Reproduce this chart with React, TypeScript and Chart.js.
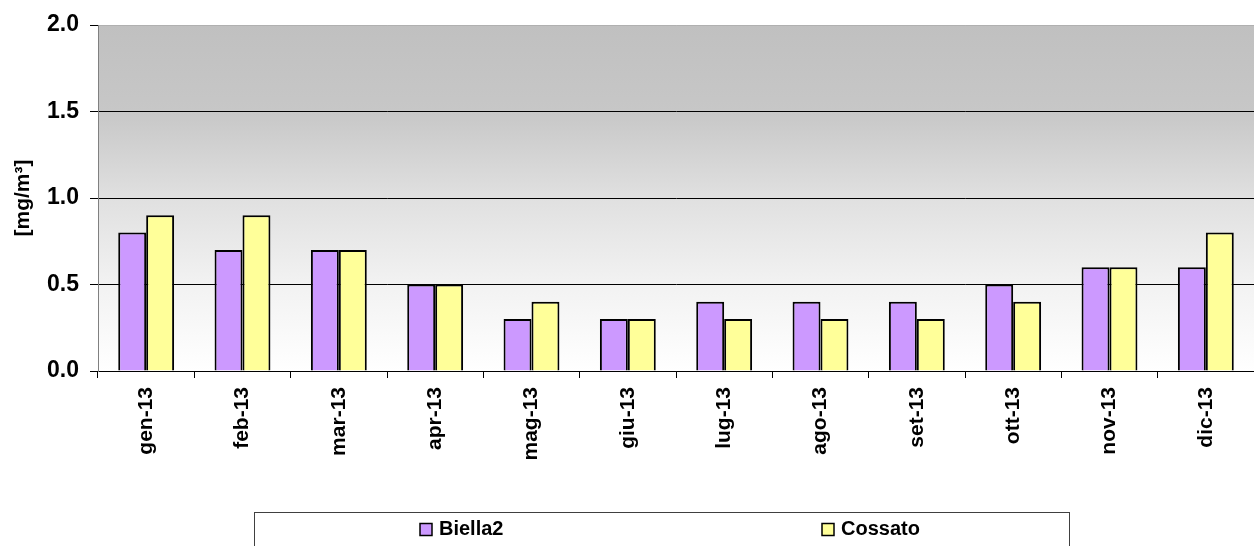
import React, { useEffect, useRef } from "react";
import { Chart, registerables } from "chart.js";

Chart.register(...registerables);

const categories = ["gen-13", "feb-13", "mar-13", "apr-13", "mag-13", "giu-13", "lug-13", "ago-13", "set-13", "ott-13", "nov-13", "dic-13"];
const biella2 = [0.8, 0.7, 0.7, 0.5, 0.3, 0.3, 0.4, 0.4, 0.4, 0.5, 0.6, 0.6];
const cossato = [0.9, 0.9, 0.7, 0.5, 0.4, 0.3, 0.3, 0.3, 0.3, 0.4, 0.6, 0.8];
const seriesNames = ["Biella2", "Cossato"];
const yTitle = "[mg/m³]";

const FONT = "Arial, 'Liberation Sans', sans-serif";

const bgPlugin = {
  id: "bgGradient",
  beforeDraw(chart: any) {
    const { ctx, chartArea } = chart;
    if (!chartArea) return;
    const g = ctx.createLinearGradient(0, chartArea.top, 0, chartArea.bottom);
    g.addColorStop(0, "#c0c0c0");
    g.addColorStop(0.25, "#c7c7c7");
    g.addColorStop(0.5, "#e0e0e0");
    g.addColorStop(0.75, "#f2f2f2");
    g.addColorStop(1, "#ffffff");
    ctx.save();
    ctx.fillStyle = g;
    ctx.fillRect(chartArea.left, chartArea.top, chartArea.right - chartArea.left, chartArea.bottom - chartArea.top);
    ctx.restore();
  },
};

const legendPlugin = {
  id: "boxLegend",
  afterDraw(chart: any) {
    const { ctx } = chart;
    ctx.save();
    ctx.strokeStyle = "#404040";
    ctx.lineWidth = 1;
    ctx.strokeRect(254.5, 512.5, 815, 60);
    const xs = [420, 822];
    const cy = 529.5;
    chart.data.datasets.forEach((ds: any, i: number) => {
      ctx.fillStyle = ds.backgroundColor;
      ctx.fillRect(xs[i], cy - 6, 12, 12);
      ctx.strokeStyle = "#000";
      ctx.lineWidth = 1.5;
      ctx.strokeRect(xs[i], cy - 6, 12, 12);
      ctx.fillStyle = "#000";
      ctx.font = `bold 20px ${FONT}`;
      ctx.textBaseline = "middle";
      ctx.textAlign = "left";
      ctx.fillText(ds.label, xs[i] + 19, cy);
    });
    ctx.restore();
  },
};

export default function App() {
  const ref = useRef<HTMLCanvasElement>(null);
  useEffect(() => {
    document.body.style.margin = "0";
    const chart = new Chart(ref.current!, {
      type: "bar",
      data: {
        labels: categories,
        datasets: [
          { label: seriesNames[0], data: biella2, backgroundColor: "#cc99ff", borderColor: "#000", borderWidth: 2 },
          { label: seriesNames[1], data: cossato, backgroundColor: "#ffff99", borderColor: "#000", borderWidth: 2 },
        ],
      },
      options: {
        animation: false,
        responsive: true,
        maintainAspectRatio: false,
        layout: { padding: { top: 25, left: 0, right: 0, bottom: 0 } },
        datasets: { bar: { categoryPercentage: 0.58, barPercentage: 1 } },
        plugins: { legend: { display: false }, tooltip: { enabled: false } },
        scales: {
          x: {
            afterFit: (s: any) => { s.height = 175; },
            grid: { drawOnChartArea: false, offset: true, color: "#000", tickLength: 7 },
            border: { color: "#000", width: 1 },
            ticks: {
              maxRotation: 90,
              minRotation: 90,
              padding: 9,
              color: "#000",
              font: { family: FONT, size: 21, weight: "bold" },
            },
          },
          y: {
            min: 0,
            max: 2,
            afterFit: (s: any) => { s.width = 98; },
            grid: {
              color: (c: any) => (c.tick && c.tick.value === 2 ? "#b0b0b0" : "#000"),
              tickColor: "#000",
              tickLength: 8,
              lineWidth: 1,
            },
            border: { color: "#808080", width: 1 },
            ticks: {
              stepSize: 0.5,
              padding: 11,
              color: "#000",
              font: { family: FONT, size: 23, weight: "bold" },
              callback: (v: any) => Number(v).toFixed(1),
            },
            title: {
              display: true,
              text: yTitle,
              color: "#000",
              padding: { top: 11, bottom: 0 },
              font: { family: FONT, size: 21, weight: "bold" },
            },
          },
        },
      },
      plugins: [bgPlugin, legendPlugin],
    });
    return () => chart.destroy();
  }, []);
  return (
    <div style={{ width: 1254, height: 546, position: "relative" }}>
      <canvas ref={ref} />
    </div>
  );
}
